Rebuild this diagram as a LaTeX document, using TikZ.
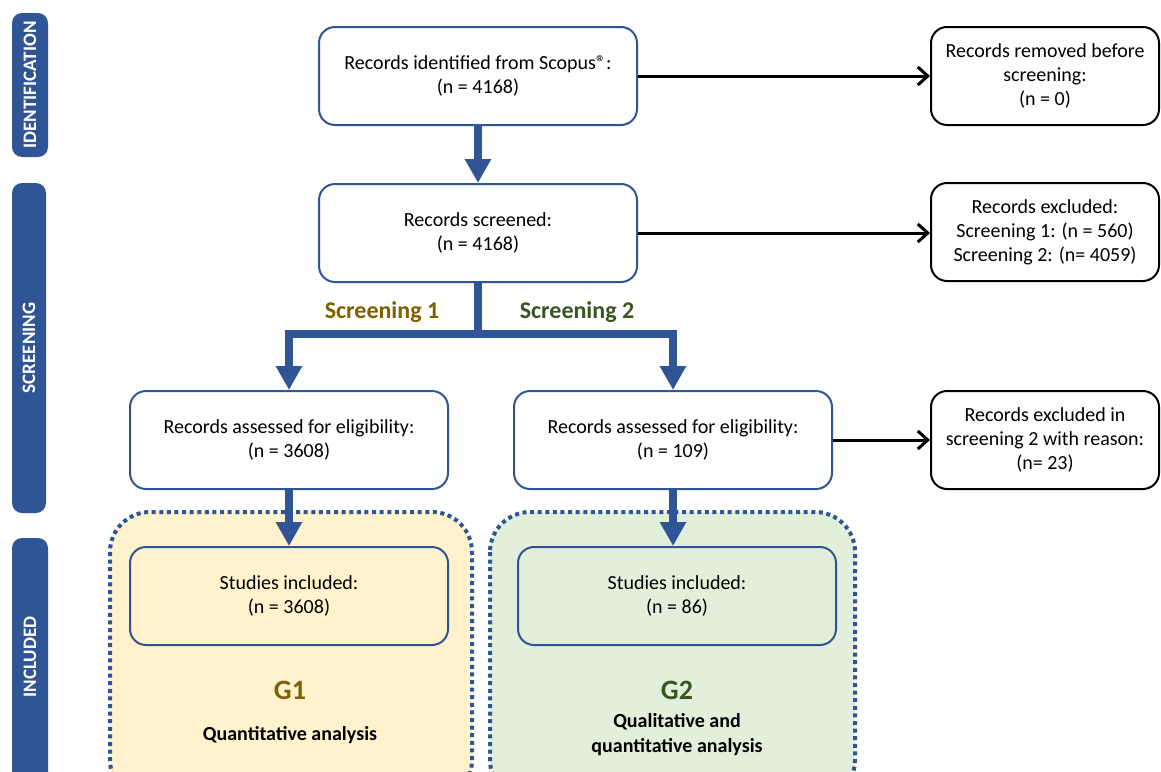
\documentclass[tikz,border=0pt]{standalone}
\usepackage{fontspec}
\setmainfont{Carlito}
\usetikzlibrary{arrows.meta}

\definecolor{prismablue}{HTML}{2F5597}
\definecolor{goldtext}{HTML}{7F6000}
\definecolor{greentext}{HTML}{375623}
\definecolor{yellowfill}{HTML}{FFF2CC}
\definecolor{greenfill}{HTML}{E2EFDA}

\tikzset{
  bluebox/.style={draw=prismablue, line width=1pt, rounded corners=8pt, fill=white,
    minimum width=159pt, minimum height=49pt, align=center, font=\fontsize{10}{12}\selectfont},
  blackbox/.style={draw=black, line width=1pt, rounded corners=8pt, fill=white,
    minimum width=114pt, minimum height=49pt, align=center, font=\fontsize{10}{12}\selectfont},
  sidetext/.style={text=white, rotate=90, font=\bfseries\fontsize{9.5}{11}\selectfont},
  bigline/.style={draw=prismablue, line width=4pt},
  bigarrow/.style={bigline, -{Triangle[length=12pt,width=12.5pt]}},
  thinarrow/.style={draw=black, line width=1.5pt, -{Straight Barb[length=5pt,width=9pt]}},
  groupbox/.style={draw=prismablue, line width=2pt, dash pattern=on 2pt off 1.8pt, rounded corners=20pt},
}

\begin{document}
\begin{tikzpicture}[x=0.5pt,y=-0.5pt]
  \clip (0,0) rectangle (1161,771);
  \fill[white] (0,0) rectangle (1161,771);

  % sidebars
  \fill[prismablue, rounded corners=5pt] (12,13) rectangle (48,157);
  \node[sidetext] (identlabel) at (30,85) {IDENTIFICATION};
  \fill[prismablue, rounded corners=5pt] (12,183) rectangle (46,513);
  \node[sidetext] (screenlabel) at (29,348) {SCREENING};
  \fill[prismablue, rounded corners=5pt] (12,538) rectangle (48,800);
  \node[sidetext] (inclabel) at (30,657) {INCLUDED};

  % groups
  \draw[groupbox, fill=yellowfill] (110,512) rectangle (472,800);
  \draw[groupbox, fill=greenfill] (490,512) rectangle (855,800);

  % identification
  \node[bluebox] (ident) at (478,76) {Records identified from Scopus®:\\(n = 4168)};
  \node[blackbox] (removed) at (1045,76) {Records removed before\\screening:\\(n = 0)};

  % screening
  \node[bluebox] (screened) at (478,233) {Records screened:\\(n = 4168)};
  \node[blackbox] (excluded) at (1045,232) {Records excluded:\\Screening 1: (n = 560)\\Screening 2: (n= 4059)};

  % eligibility
  \node[bluebox] (elig1) at (289,440) {Records assessed for eligibility:\\(n = 3608)};
  \node[bluebox] (elig2) at (673,440) {Records assessed for eligibility:\\(n = 109)};
  \node[blackbox] (excluded2) at (1045,440) {Records excluded in\\screening 2 with reason:\\(n= 23)};

  % included
  \node[bluebox, fill=yellowfill] (incl1) at (289,596) {Studies included:\\(n = 3608)};
  \node[bluebox, fill=greenfill] (incl2) at (677,596) {Studies included:\\(n = 86)};
  \node[text=goldtext, font=\bfseries\fontsize{14}{16}\selectfont] (g1) at (290,690) {G1};
  \node[font=\bfseries\fontsize{10}{12}\selectfont] (g1text) at (290,735) {Quantitative analysis};
  \node[text=greentext, font=\bfseries\fontsize{14}{16}\selectfont] (g2) at (677,690) {G2};
  \node[align=center, font=\bfseries\fontsize{10}{12.5}\selectfont] (g2text) at (677,735) {Qualitative and\\quantitative analysis};

  % arrows
  \draw[thinarrow] (ident) -- (removed);
  \draw[thinarrow] (screened) -- (excluded.west |- screened);
  \draw[thinarrow] (elig2) -- (excluded2);
  \draw[bigarrow] (ident) -- (screened);
  \draw[bigline] (screened.south) -- ++(0,51) coordinate (split);
  \draw[bigarrow] (split) -| (elig1.north);
  \draw[bigarrow] (split) -| (elig2.north);
  \draw[bigarrow] (elig1) -- (incl1);
  \draw[bigarrow] (elig2.south) -- (elig2.south |- incl2.north);

  % branch labels
  \node[text=goldtext, font=\bfseries\fontsize{12}{14}\selectfont] (s1label) at (382,312) {Screening 1};
  \node[text=greentext, font=\bfseries\fontsize{12}{14}\selectfont] (s2label) at (577,312) {Screening 2};
\end{tikzpicture}
\end{document}
